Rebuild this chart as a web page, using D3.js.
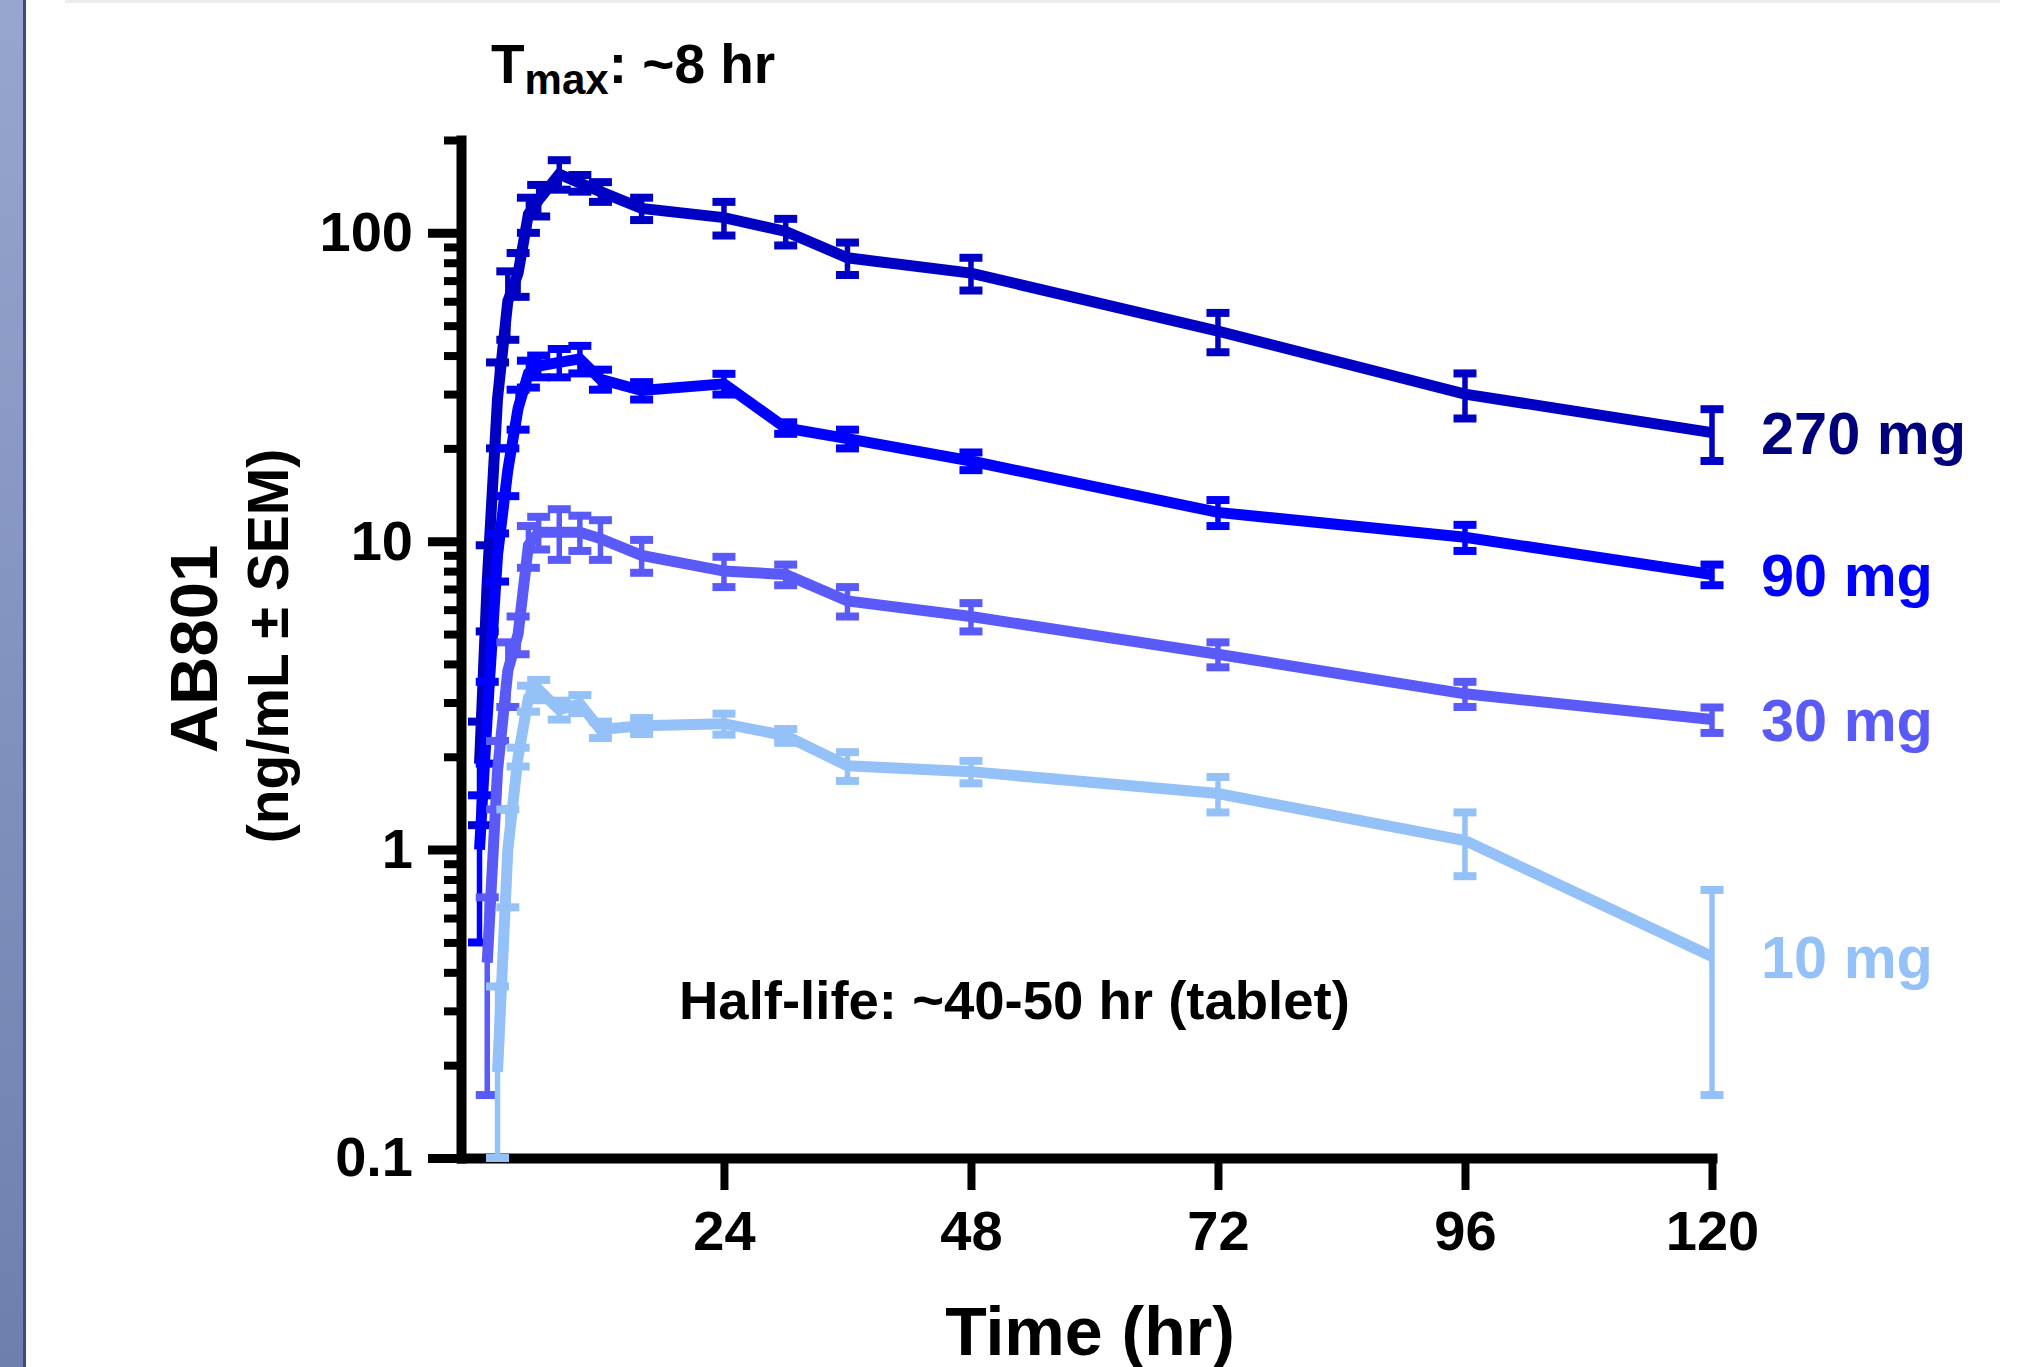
<!DOCTYPE html>
<html>
<head>
<meta charset="utf-8">
<script src="https://cdn.jsdelivr.net/npm/d3@7"></script>
<style>
  html, body { margin: 0; padding: 0; background: #fff; }
  svg { display: block; font-family: "Liberation Sans", Arial, sans-serif; font-weight: bold; }
</style>
</head>
<body>
<div id="container"></div>
<script>
// sampling times (hr)
var times = [0.25, 1, 2, 3, 4, 5, 6, 8, 10, 12, 16, 24, 30, 36, 48, 72, 96, 120];

// mean concentration (ng/mL), null = not plotted
var mean270 = [1.9, 7.4, 29, 60, 74, 115, 128, 155, 145, 136, 120, 112, 101, 83, 74, 48, 30, 22.5];
var sem270  = [0.7, 2.3, 9, 15, 12, 15, 15, 17, 9, 10, 10, 14, 10, 10, 9, 7, 5, 4.3];

var mean90 = [1.0, 2.7, 9, 17, 27, 35, 37, 38, 39, 33.5, 30.8, 32.4, 23.3, 21.5, 18.2, 12.4, 10.3, 7.8];
var sem90  = [0.5, 0.8, 1.6, 3, 4, 3.5, 3, 4, 4, 2.5, 2, 2.5, 1, 1.5, 1.2, 1.2, 1, 0.6];

var mean30 = [null, 0.43, 1.8, 3.8, 5.0, 9.7, 10.7, 10.7, 10.7, 10.2, 9.0, 8.0, 7.8, 6.4, 5.7, 4.3, 3.2, 2.64];
var sem30  = [null, 0.27, 0.45, 0.9, 0.7, 1.5, 1.3, 2, 1.4, 1.5, 1.1, 0.9, 0.6, 0.7, 0.6, 0.4, 0.3, 0.25];

var mean10 = [null, null, 0.19, 1.0, 2.0, 3.1, 3.3, 2.84, 2.97, 2.45, 2.52, 2.56, 2.34, 1.87, 1.79, 1.52, 1.07, 0.45];
var sem10  = [null, null, 0.17, 0.35, 0.14, 0.3, 0.25, 0.2, 0.2, 0.15, 0.15, 0.2, 0.12, 0.2, 0.15, 0.2, 0.25, 0.29];

var doseLabels = ["270 mg", "90 mg", "30 mg", "10 mg"];
var lineColors = ["#0000c4", "#0000ff", "#5a5af8", "#93c1f8"];
var labelColors = ["#00007c", "#0000ff", "#5a5af8", "#93c1f8"];

var xTicks = [24, 48, 72, 96, 120];
var yMajor = [0.1, 1, 10, 100];
var yMinor = [0.2, 0.3, 0.4, 0.5, 0.6, 0.7, 0.8, 0.9, 2, 3, 4, 5, 6, 7, 8, 9, 20, 30, 40, 50, 60, 70, 80, 90, 200];

var w = 2035, h = 1367;

var svg = d3.select("#container")
	.append("svg")
	.attr("width", w)
	.attr("height", h);

// page frame bits (left bar and top shade)
var grad = svg.append("defs").append("linearGradient")
	.attr("id", "barGrad").attr("x1", 0).attr("y1", 0).attr("x2", 0).attr("y2", 1);
grad.append("stop").attr("offset", "0%").attr("stop-color", "#97a6d0");
grad.append("stop").attr("offset", "100%").attr("stop-color", "#6e7fae");
svg.append("rect").attr("x", 0).attr("y", 0).attr("width", 24).attr("height", h).attr("fill", "url(#barGrad)");
svg.append("rect").attr("x", 23).attr("y", 0).attr("width", 3).attr("height", h).attr("fill", "#3b4a80");
svg.append("rect").attr("x", 65).attr("y", 0).attr("width", 1935).attr("height", 3).attr("fill", "#ececec");

var x = d3.scaleLinear().domain([-1.5, 120]).range([461.5, 1712]);
var y = d3.scaleLog().domain([0.1, 200]).range([1158, 140]);

// y axis: minor ticks, then major ticks with labels
var yMinorAxis = svg.append("g")
	.attr("transform", "translate(461,0)")
	.call(d3.axisLeft(y).tickValues(yMinor).tickSize(17).tickSizeOuter(0).tickFormat(""));
yMinorAxis.select(".domain").remove();
yMinorAxis.selectAll("line").attr("stroke", "#000").attr("stroke-width", 8);

var yAxis = svg.append("g")
	.attr("transform", "translate(461,0)")
	.call(d3.axisLeft(y).tickValues(yMajor).tickSize(33).tickSizeOuter(0).tickPadding(15)
		.tickFormat(d3.format("~g")));
yAxis.select(".domain").attr("stroke", "#000").attr("stroke-width", 10).attr("stroke-linecap", "square");
yAxis.selectAll("line").attr("stroke", "#000").attr("stroke-width", 9);
yAxis.selectAll("text").attr("font-size", 56).attr("font-weight", "bold").attr("fill", "#000")
	.attr("font-family", "'Liberation Sans', Arial, sans-serif");

var xAxis = svg.append("g")
	.attr("transform", "translate(0,1158)")
	.call(d3.axisBottom(x).tickValues(xTicks).tickSize(32).tickSizeOuter(0).tickPadding(20));
xAxis.select(".domain").attr("stroke", "#000").attr("stroke-width", 10).attr("stroke-linecap", "square");
xAxis.selectAll("line").attr("stroke", "#000").attr("stroke-width", 8);
xAxis.selectAll("text").attr("font-size", 56).attr("font-weight", "bold").attr("fill", "#000")
	.attr("font-family", "'Liberation Sans', Arial, sans-serif");

// series
var means = [mean270, mean90, mean30, mean10];
var sems = [sem270, sem90, sem30, sem10];
var capW = 23;

var line = d3.line()
	.defined(function(d){ return d.v !== null; })
	.x(function(d){ return x(d.t); })
	.y(function(d){ return y(d.v); });

means.forEach(function(m, k){
	var pts = times.map(function(t, i){
		return {t: t, v: m[i], e: sems[k][i]};
	});
	var valid = pts.filter(function(d){ return d.v !== null; });
	var g = svg.append("g").attr("class", "series");

	g.append("path")
		.datum(pts)
		.attr("d", line)
		.attr("fill", "none")
		.attr("stroke", lineColors[k])
		.attr("stroke-width", 11)
		.attr("stroke-linejoin", "miter");

	var hi = function(d){ return y(Math.min(d.v + d.e, 200)); };
	var lo = function(d){ return y(Math.max(d.v - d.e, 0.1)); };

	g.selectAll(".stem")
		.data(valid)
		.enter()
		.append("line")
		.attr("x1", function(d){ return x(d.t); })
		.attr("x2", function(d){ return x(d.t); })
		.attr("y1", hi)
		.attr("y2", lo)
		.attr("stroke", lineColors[k])
		.attr("stroke-width", 5.5);

	[hi, lo].forEach(function(f){
		g.selectAll(null)
			.data(valid)
			.enter()
			.append("line")
			.attr("x1", function(d){ return x(d.t) - capW/2; })
			.attr("x2", function(d){ return x(d.t) + capW/2; })
			.attr("y1", f)
			.attr("y2", f)
			.attr("stroke", lineColors[k])
			.attr("stroke-width", 8);
	});

	var last = valid[valid.length - 1];
	svg.append("text")
		.text(doseLabels[k])
		.attr("x", x(last.t) + 49)
		.attr("y", y(last.v))
		.attr("dy", "0.36em")
		.attr("font-size", 59.5)
		.attr("fill", labelColors[k]);
});

// axis titles and notes
svg.append("text")
	.attr("transform", "translate(217,649) rotate(-90)")
	.attr("text-anchor", "middle")
	.attr("font-size", 67)
	.text("AB801");

svg.append("text")
	.attr("transform", "translate(288,646) rotate(-90)")
	.attr("text-anchor", "middle")
	.attr("font-size", 57)
	.text("(ng/mL \u00b1 SEM)");

svg.append("text")
	.attr("x", 1090)
	.attr("y", 1355)
	.attr("text-anchor", "middle")
	.attr("font-size", 68)
	.text("Time (hr)");

var tmax = svg.append("text")
	.attr("x", 491)
	.attr("y", 83)
	.attr("font-size", 55);
tmax.append("tspan").text("T");
tmax.append("tspan").attr("font-size", 42).attr("dy", 11).text("max");
tmax.append("tspan").attr("dy", -11).text(": ~8 hr");

svg.append("text")
	.attr("x", 679)
	.attr("y", 1019)
	.attr("font-size", 54.5)
	.text("Half-life: ~40-50 hr (tablet)");
</script>
</body>
</html>
